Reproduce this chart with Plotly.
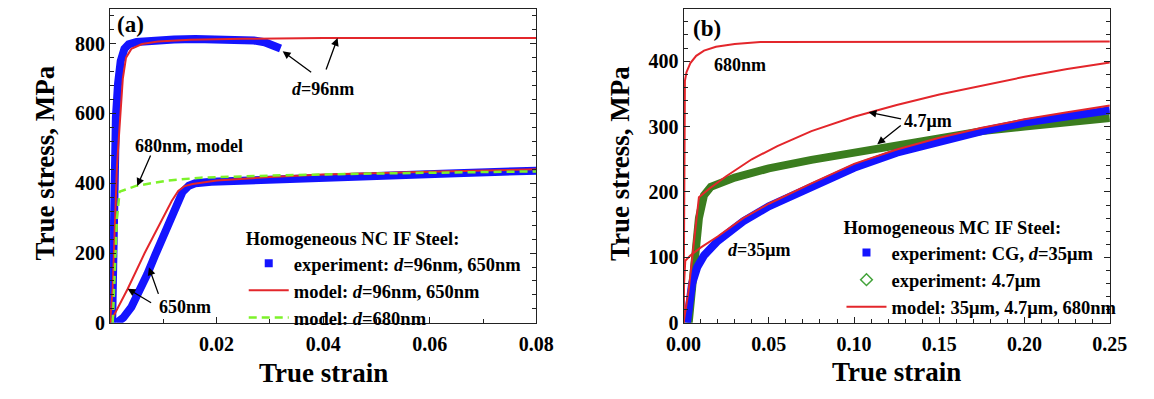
import plotly.graph_objects as go

# ---------------- data: panel (a) ----------------
a_exp96_strain = [0.0004, 0.0006, 0.0008, 0.0011, 0.0015, 0.002, 0.0027, 0.0035, 0.005, 0.008, 0.012, 0.016, 0.020, 0.024, 0.027, 0.029, 0.031, 0.0320]
a_exp96_stress = [0, 200, 420, 590, 685, 750, 785, 798, 805, 810, 812, 813, 813, 812, 809, 804, 795, 786]

a_mod96_strain = [0, 0.0005, 0.0013, 0.0019, 0.0024, 0.003, 0.004, 0.006, 0.009, 0.015, 0.025, 0.04, 0.08]
a_mod96_stress = [0, 100, 450, 600, 700, 760, 785, 799, 806, 811, 814, 816, 816]

a_exp650_strain = [0.0012, 0.0025, 0.004, 0.0055, 0.007, 0.0085, 0.0100, 0.0113, 0.0125, 0.0136, 0.0148, 0.016, 0.019, 0.025, 0.035, 0.045, 0.055, 0.065, 0.08]
a_exp650_stress = [0, 15, 45, 90, 140, 195, 250, 300, 345, 375, 393, 400, 404, 408, 413, 418, 424, 429, 436]

a_mod650_strain = [0, 0.0033, 0.0065, 0.0098, 0.0116, 0.0128, 0.014, 0.0155, 0.02, 0.03, 0.04, 0.06, 0.08]
a_mod650_stress = [0, 97, 200, 300, 350, 378, 392, 398, 408, 418, 425, 433, 440]

a_mod680_strain = [0.0005, 0.0009, 0.0013, 0.0018, 0.005, 0.011, 0.017, 0.03, 0.05, 0.08]
a_mod680_stress = [0, 150, 300, 376, 393, 408, 416, 422, 428, 434]

# ---------------- data: panel (b) ----------------
b_exp35_strain = [0.002, 0.003, 0.005, 0.008, 0.012, 0.02, 0.035, 0.05, 0.075, 0.10, 0.125, 0.15, 0.175, 0.20, 0.225, 0.25]
b_exp35_stress = [0, 30, 60, 85, 103, 125, 155, 178, 208, 237, 260, 278, 293, 306, 316, 325]

b_exp47_strain = [0.003, 0.006, 0.009, 0.012, 0.016, 0.03, 0.05, 0.075, 0.10, 0.125, 0.15, 0.175, 0.20, 0.225, 0.25]
b_exp47_stress = [0, 80, 160, 195, 208, 222, 236, 249, 260, 272, 284, 293, 300, 307, 313]

b_mod35_strain = [0, 0.0003, 0.001, 0.004, 0.01, 0.02, 0.035, 0.05, 0.075, 0.10, 0.125, 0.15, 0.175, 0.20, 0.225, 0.25]
b_mod35_stress = [0, 60, 95, 103, 115, 132, 160, 182, 213, 243, 265, 283, 298, 311, 322, 332]

b_mod47_strain = [0, 0.003, 0.009, 0.015, 0.025, 0.04, 0.055, 0.075, 0.10, 0.125, 0.15, 0.175, 0.20, 0.225, 0.25]
b_mod47_stress = [0, 50, 192, 205, 224, 250, 270, 293, 315, 333, 349, 363, 376, 388, 398]

b_mod680_strain = [0, 0.0008, 0.0017, 0.004, 0.0074, 0.012, 0.019, 0.03, 0.045, 0.25]
b_mod680_stress = [0, 370, 383, 397, 408, 416, 422, 426, 429, 430]

# ticks
a_xticks = [0.02, 0.04, 0.06, 0.08]
a_yticks = [0, 200, 400, 600, 800]
b_xticks = [0.00, 0.05, 0.10, 0.15, 0.20, 0.25]
b_yticks = [0, 100, 200, 300, 400]

# ---------------- styling ----------------
W, H = 1154, 399
FONT = "Liberation Serif"
RED = "#e3262b"
BLUE = "#1414ff"
LGREEN = "#7df22a"
DGREEN = "#3b7d1f"
BAND = 8

def PX(x):
    return x / W

def PY(y):
    return 1 - y / H

fig = go.Figure()

# panel (a)
fig.add_trace(go.Scatter(x=a_exp96_strain, y=a_exp96_stress, mode="lines",
                         line=dict(color=BLUE, width=BAND), showlegend=False, xaxis="x", yaxis="y"))
fig.add_trace(go.Scatter(x=a_exp650_strain, y=a_exp650_stress, mode="lines",
                         line=dict(color=BLUE, width=BAND), showlegend=False, xaxis="x", yaxis="y"))
fig.add_trace(go.Scatter(x=a_mod96_strain, y=a_mod96_stress, mode="lines",
                         line=dict(color=RED, width=2), showlegend=False, xaxis="x", yaxis="y"))
fig.add_trace(go.Scatter(x=a_mod650_strain, y=a_mod650_stress, mode="lines",
                         line=dict(color=RED, width=2), showlegend=False, xaxis="x", yaxis="y"))
fig.add_trace(go.Scatter(x=a_mod680_strain, y=a_mod680_stress, mode="lines",
                         line=dict(color=LGREEN, width=2.5, dash="8px,5px"), showlegend=False,
                         xaxis="x", yaxis="y"))
# legend entries (a)
fig.add_trace(go.Scatter(x=[None], y=[None], mode="markers", name="experiment: <i>d</i>=96nm, 650nm",
                         marker=dict(symbol="square", color=BLUE, size=8), legend="legend",
                         xaxis="x", yaxis="y"))
fig.add_trace(go.Scatter(x=[None], y=[None], mode="lines", name="model: <i>d</i>=96nm, 650nm",
                         line=dict(color=RED, width=2), legend="legend", xaxis="x", yaxis="y"))
fig.add_trace(go.Scatter(x=[None], y=[None], mode="lines", name="model: <i>d</i>=680nm",
                         line=dict(color=LGREEN, width=2.5, dash="8px,5px"), legend="legend",
                         xaxis="x", yaxis="y"))

# panel (b)
fig.add_trace(go.Scatter(x=b_exp47_strain, y=b_exp47_stress, mode="lines",
                         line=dict(color=DGREEN, width=BAND), showlegend=False, xaxis="x2", yaxis="y2"))
fig.add_trace(go.Scatter(x=b_exp35_strain, y=b_exp35_stress, mode="lines",
                         line=dict(color=BLUE, width=BAND), showlegend=False, xaxis="x2", yaxis="y2"))
for xs, ys in [(b_mod35_strain, b_mod35_stress), (b_mod47_strain, b_mod47_stress),
               (b_mod680_strain, b_mod680_stress)]:
    fig.add_trace(go.Scatter(x=xs, y=ys, mode="lines", line=dict(color=RED, width=2),
                             showlegend=False, xaxis="x2", yaxis="y2"))
fig.add_trace(go.Scatter(x=[None], y=[None], mode="markers", name="experiment: CG, <i>d</i>=35μm",
                         marker=dict(symbol="square", color=BLUE, size=8), legend="legend2",
                         xaxis="x2", yaxis="y2"))
fig.add_trace(go.Scatter(x=[None], y=[None], mode="markers", name="experiment: 4.7μm",
                         marker=dict(symbol="diamond-open", color="#43a33a", size=9,
                                     line=dict(width=1.5)), legend="legend2",
                         xaxis="x2", yaxis="y2"))
fig.add_trace(go.Scatter(x=[None], y=[None], mode="lines", name="model: 35μm, 4.7μm, 680nm",
                         line=dict(color=RED, width=2), legend="legend2", xaxis="x2", yaxis="y2"))

axis_common = dict(showgrid=False, zeroline=False, showline=True, linecolor="#222", linewidth=1.3,
                   ticks="inside", ticklen=6, tickwidth=1.2, tickcolor="#222",
                   tickfont=dict(family=FONT, size=20, color="black", weight="bold"))

LEGFONT = dict(family=FONT, size=18.5, color="black", weight="bold")
ydom = [PY(332), PY(9)]
fig.update_layout(
    width=W, height=H, margin=dict(l=0, r=0, t=0, b=0),
    paper_bgcolor="white", plot_bgcolor="white",
    font=dict(family=FONT, color="black", weight="bold"),
    xaxis=dict(domain=[PX(95), PX(535)], range=[0, 0.08], tickvals=a_xticks,
               ticktext=[f"{v:.2f}" for v in a_xticks], mirror=True, anchor="y",
               ticklabelstandoff=3,
               minor=dict(tickmode="linear", tick0=0, dtick=0.01, ticks="inside", ticklen=4,
                          tickcolor="#222"), **axis_common),
    yaxis=dict(domain=ydom, range=[0, 900], tickvals=a_yticks, mirror="ticks", anchor="x",
               minor=dict(tickmode="linear", tick0=0, dtick=40, ticks="inside", ticklen=4,
                          tickcolor="#222"), **axis_common),
    xaxis2=dict(domain=[PX(687), PX(1127)], range=[0, 0.25], tickvals=b_xticks,
                ticktext=[f"{v:.2f}" for v in b_xticks], mirror=True, anchor="y2",
                ticklabelstandoff=3,
                minor=dict(tickmode="linear", tick0=0, dtick=0.01, ticks="inside", ticklen=4,
                           tickcolor="#222"), **axis_common),
    yaxis2=dict(domain=ydom, range=[0, 480], tickvals=b_yticks, mirror="ticks", anchor="x2",
                minor=dict(tickmode="linear", tick0=0, dtick=20, ticks="inside", ticklen=4,
                           tickcolor="#222"), **axis_common),
    legend=dict(x=PX(233), y=PY(227), xanchor="left", yanchor="top", bgcolor="rgba(0,0,0,0)",
                font=LEGFONT, title=dict(text="Homogeneous NC IF Steel:", font=LEGFONT),
                itemwidth=40, tracegroupgap=0),
    legend2=dict(x=PX(850), y=PY(216), xanchor="left", yanchor="top", bgcolor="rgba(0,0,0,0)",
                 font=LEGFONT, title=dict(text="Homogeneous MC IF Steel:", font=LEGFONT),
                 itemwidth=40, tracegroupgap=0),
)

def text(px, py, s, size=18, angle=0):
    fig.add_annotation(x=PX(px), y=PY(py), xref="paper", yref="paper", text=s, showarrow=False,
                       textangle=angle, font=dict(family=FONT, size=size, color="black", weight="bold"),
                       xanchor="center", yanchor="middle")

def arrow(xref, yref, x, y, ax, ay):
    fig.add_annotation(x=x, y=y, xref=xref, yref=yref, ax=ax, ay=ay, text="", showarrow=True,
                       arrowhead=2, arrowsize=1.2, arrowwidth=1.3, arrowcolor="black")

# axis titles
text(315, 384, "True strain", size=27)
text(907, 383, "True strain", size=27)
text(28, 168, "True stress, MPa", size=27, angle=-90)
text(622, 168, "True stress, MPa", size=27, angle=-90)

# panel labels
text(116, 25, "(a)", size=23)
text(711, 29, "(b)", size=23)

# panel (a) annotations
text(315, 92, "<i>d</i>=96nm", size=18)
arrow("x", "y", 0.0324, 778, 30, 22)
arrow("x", "y", 0.0427, 816, -12, 33)
text(176, 150, "680nm, model", size=18)
arrow("x", "y", 0.0051, 392, 14, -32)
text(172, 316, "650nm", size=18)
arrow("x", "y", 0.0033, 98, 25, 15)
arrow("x", "y", 0.0073, 159, 10, 28)

# panel (b) annotations
text(745, 67, "680nm", size=18)
text(939, 124, "4.7μm", size=18)
arrow("x2", "y2", 0.1085, 322, 34, 7)
arrow("x2", "y2", 0.1136, 273, 25, -20)
text(765, 257, "<i>d</i>=35μm", size=18)

fig.write_html("out.html")
